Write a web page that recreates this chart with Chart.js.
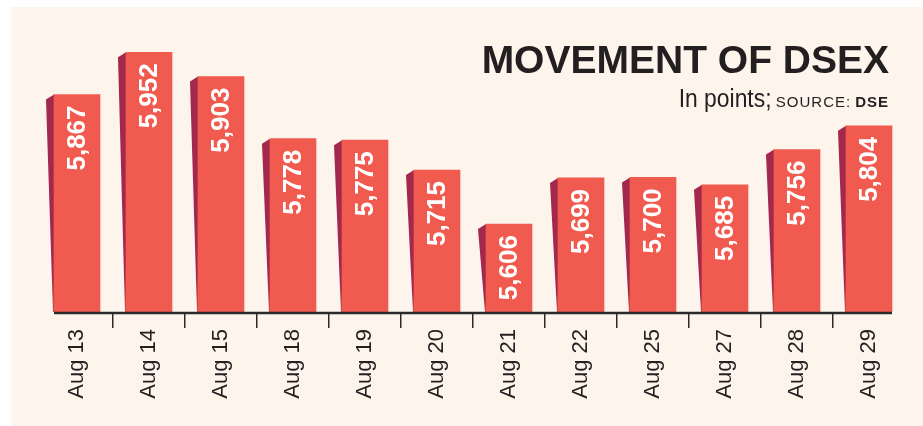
<!DOCTYPE html>
<html>
<head>
<meta charset="utf-8">
<script src="https://cdn.jsdelivr.net/npm/chart.js@4.4.1/dist/chart.umd.min.js"></script>
<style>
  html, body { margin: 0; padding: 0; background: #ffffff; }
  body { width: 923px; height: 426px; position: relative; overflow: hidden; }
  #panel { position: absolute; left: 11px; top: 7px; width: 912px; height: 419px; background: #fdf4ec; }
  #title { position: absolute; right: 34px; top: 40px; font: bold 39px "Liberation Sans", Arial, sans-serif; line-height: 1; color: #231f20; white-space: nowrap; }
  #sub { position: absolute; right: 34px; top: 83px; line-height: 1; color: #231f20; white-space: nowrap; }
  #sub .a { display: inline-block; font: 26px "Liberation Sans", sans-serif; transform: scaleX(0.88); transform-origin: right center; margin-left: -14px; }
  #sub .b { font: 15px "Liberation Sans", sans-serif; letter-spacing: 1px; }
  #sub .c { font: bold 15px "Liberation Sans", sans-serif; letter-spacing: 1px; }
</style>
</head>
<body>
<div id="panel"><canvas id="chart"></canvas></div>
<div id="title">MOVEMENT OF DSEX</div>
<div id="sub"><span class="a">In points;</span> <span class="b">SOURCE:</span> <span class="c">DSE</span></div>
<script>
const dates = ["Aug 13", "Aug 14", "Aug 15", "Aug 18", "Aug 19", "Aug 20", "Aug 21", "Aug 22", "Aug 25", "Aug 27", "Aug 28", "Aug 29"];
const dsex = [5867, 5952, 5903, 5778, 5775, 5715, 5606, 5699, 5700, 5685, 5756, 5804];

const front = "#f05a4f";
const side = "#a3284b";
const ink = "#231f20";

// dark left face of each bar + axis line + rotated values
const barDeco = {
  id: "barDeco",
  beforeDatasetsDraw(chart) {
    const ctx = chart.ctx;
    const bars = chart.getDatasetMeta(0).data;
    const bottom = chart.chartArea.bottom;
    ctx.save();
    bars.forEach(b => {
      const left = b.x - b.width / 2;
      const g = ctx.createLinearGradient(0, b.y, 0, bottom);
      g.addColorStop(0, side);
      g.addColorStop(0.85, side);
      g.addColorStop(1, "#c0405e");
      ctx.fillStyle = g;
      ctx.beginPath();
      ctx.moveTo(left - 8, b.y + 5);
      ctx.lineTo(left, b.y);
      ctx.lineTo(left, bottom);
      ctx.lineTo(left - 1, bottom);
      ctx.closePath();
      ctx.fill();
    });
    ctx.restore();
  },
  afterDatasetsDraw(chart) {
    const ctx = chart.ctx;
    const bars = chart.getDatasetMeta(0).data;
    const bottom = chart.chartArea.bottom;
    ctx.save();
    const first = bars[0], last = bars[bars.length - 1];
    ctx.strokeStyle = "#2b2b2b";
    ctx.lineWidth = 2.5;
    ctx.beginPath();
    ctx.moveTo(first.x - first.width / 2, bottom + 1);
    ctx.lineTo(last.x + last.width / 2, bottom + 1);
    ctx.stroke();

    ctx.fillStyle = "#ffffff";
    ctx.font = "bold 26px 'Liberation Sans', Arial, sans-serif";
    ctx.textAlign = "right";
    ctx.textBaseline = "alphabetic";
    bars.forEach((b, i) => {
      ctx.save();
      ctx.translate(b.x + 8, b.y + 11);
      ctx.rotate(-Math.PI / 2);
      ctx.fillText(dsex[i].toLocaleString("en-US"), 0, 0);
      ctx.restore();
    });
    ctx.restore();
  }
};

new Chart(document.getElementById("chart"), {
  type: "bar",
  data: {
    labels: dates,
    datasets: [{
      data: dsex,
      backgroundColor: front,
      borderWidth: 0,
      barThickness: 46
    }]
  },
  options: {
    responsive: true,
    maintainAspectRatio: false,
    animation: false,
    layout: { padding: { left: 30, right: 18, top: 13, bottom: 0 } },
    plugins: { legend: { display: false }, tooltip: { enabled: false } },
    scales: {
      y: { display: false, min: 5429, max: 6017 },
      x: {
        border: { display: false },
        grid: {
          offset: true,
          drawOnChartArea: false,
          drawTicks: true,
          tickLength: 16,
          lineWidth: 1.5,
          color: c => (c.type !== "tick" || c.index === 0) ? "rgba(0,0,0,0)" : "#2b2b2b"
        },
        ticks: {
          minRotation: 90,
          maxRotation: 90,
          padding: 1,
          color: ink,
          font: { family: "'Liberation Sans', Arial, sans-serif", size: 22 }
        },
        afterFit: s => { s.height = 114; }
      }
    }
  },
  plugins: [barDeco]
});
</script>
</body>
</html>
